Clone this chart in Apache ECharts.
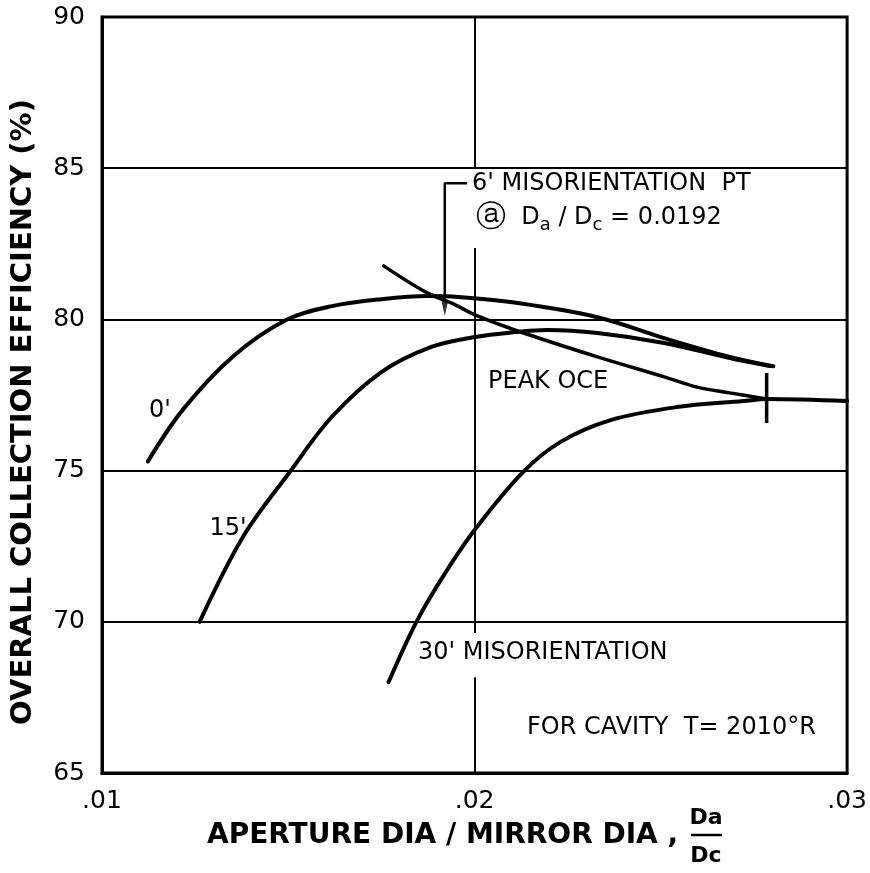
<!DOCTYPE html>
<html>
<head>
<meta charset="utf-8">
<title>Overall collection efficiency vs aperture ratio</title>
<script src="https://cdn.jsdelivr.net/npm/echarts@6/dist/echarts.min.js"></script>
<style>
  html, body { margin: 0; padding: 0; background: #ffffff; }
  #chart { width: 870px; height: 873px; }
</style>
</head>
<body>
<div id="chart"></div>
<script>
// Axis ticks
const xTicks = [0.01, 0.02, 0.03];
const yTicks = [65, 70, 75, 80, 85, 90];

// Overall collection efficiency (%) vs Da/Dc, per misorientation
const curve0 = [
  [0.01123, 75.30], [0.01216, 77.00], [0.01350, 78.76], [0.01494, 79.98],
  [0.01617, 80.44], [0.01750, 80.67], [0.01876, 80.77], [0.01956, 80.74],
  [0.02116, 80.54], [0.02330, 80.07], [0.02509, 79.38], [0.02685, 78.76],
  [0.02802, 78.45]
];
const curve15 = [
  [0.01262, 70.00], [0.01379, 72.82], [0.01502, 74.92], [0.01617, 76.78],
  [0.01750, 78.26], [0.01884, 79.09], [0.02001, 79.42], [0.02108, 79.58],
  [0.02196, 79.65], [0.02330, 79.55], [0.02509, 79.22], [0.02685, 78.72],
  [0.02792, 78.46]
];
const curve30 = [
  [0.01769, 68.00], [0.01844, 70.00], [0.01921, 71.61], [0.02004, 73.10],
  [0.02130, 74.95], [0.02231, 75.95], [0.02365, 76.67], [0.02543, 77.10],
  [0.02722, 77.30], [0.02784, 77.37], [0.03000, 77.30]
];
// Locus of peak OCE across misorientations
const peakOce = [
  [0.01756, 81.77], [0.01868, 80.91], [0.01948, 80.48], [0.02001, 80.15],
  [0.02108, 79.65], [0.02330, 78.76], [0.02509, 78.10], [0.02597, 77.76],
  [0.02685, 77.57], [0.02784, 77.37]
];
// 6' misorientation point and the tick on the peak locus
const misorient6X = 0.0192;
const peakTickX = 0.02784;
const peakTickSpan = [76.57, 78.23];

const FONT = '"DejaVu Sans", sans-serif';
const BLACK = '#000000';

const chart = echarts.init(document.getElementById('chart'), null, { renderer: 'canvas' });

function curveSeries(name, data, width) {
  return {
    name: name,
    type: 'line',
    data: data,
    smooth: 0.35,
    symbol: 'none',
    lineStyle: { color: BLACK, width: width, cap: 'round' },
    z: 5,
    silent: true
  };
}

function text(str, x, y, opts) {
  return Object.assign({
    type: 'text',
    x: x, y: y,
    silent: true,
    style: Object.assign({
      text: str,
      fontFamily: FONT,
      fontSize: 24,
      fontWeight: 'normal',
      fill: BLACK,
      align: 'left',
      verticalAlign: 'middle'
    }, opts && opts.style)
  }, opts && opts.el);
}

const option = {
  animation: false,
  backgroundColor: '#ffffff',
  grid: {
    left: 102, right: 19, top: 17, bottom: 100,
    show: true, borderColor: BLACK, borderWidth: 3
  },
  xAxis: {
    type: 'value',
    min: xTicks[0], max: xTicks[xTicks.length - 1], interval: 0.01,
    axisLine: { show: true, lineStyle: { color: BLACK, width: 3 } },
    axisTick: { show: false },
    splitLine: { show: false },
    axisLabel: {
      color: BLACK, fontFamily: FONT, fontSize: 25, margin: 16,
      formatter: v => v.toFixed(2).replace(/^0/, '')
    }
  },
  yAxis: {
    type: 'value',
    min: yTicks[0], max: yTicks[yTicks.length - 1], interval: 5,
    axisLine: { show: true, lineStyle: { color: BLACK, width: 3 } },
    axisTick: { show: false },
    splitLine: { show: true, lineStyle: { color: BLACK, width: 2 } },
    axisLabel: { color: BLACK, fontFamily: FONT, fontSize: 25, margin: 17 }
  },
  series: [
    // vertical rule at Da/Dc = .02, broken where the notes sit
    {
      type: 'line', data: [], silent: true,
      markLine: {
        silent: true, symbol: 'none', label: { show: false },
        lineStyle: { color: BLACK, width: 2, type: 'solid' },
        data: [
          [{ coord: [0.02, 90] }, { coord: [0.02, 85] }],
          [{ coord: [0.02, 82.36] }, { coord: [0.02, 69.63] }],
          [{ coord: [0.02, 68.17] }, { coord: [0.02, 65] }]
        ]
      }
    },
    curveSeries("0'", curve0, 4),
    curveSeries("15'", curve15, 4),
    curveSeries("30'", curve30, 4),
    curveSeries('PEAK OCE', peakOce, 3.5),
    // tick on the peak locus
    {
      type: 'line', symbol: 'none', silent: true, z: 6,
      data: [[peakTickX, peakTickSpan[0]], [peakTickX, peakTickSpan[1]]],
      lineStyle: { color: BLACK, width: 3.5 }
    },
    // bracket leading from the note to the 6' point
    {
      type: 'line', symbol: 'none', silent: true, z: 6,
      data: [[misorient6X + 0.0006, 84.5], [misorient6X, 84.5], [misorient6X, 80.6]],
      lineStyle: { color: BLACK, width: 2.5 }
    },
    {
      type: 'scatter', silent: true, z: 7,
      data: [[misorient6X, 80.38]],
      symbol: 'triangle', symbolRotate: 180, symbolSize: [7, 16],
      itemStyle: { color: BLACK }
    }
  ],
  graphic: [
    text('OVERALL COLLECTION EFFICIENCY (%)', 23, 412, {
      el: { rotation: Math.PI / 2 },
      style: { fontSize: 29, fontWeight: 'bold', align: 'center' }
    }),
    text('APERTURE DIA / MIRROR DIA ,', 207, 836, { style: { fontSize: 28, fontWeight: 'bold' } }),
    text('Da', 706, 818, { style: { fontSize: 22, fontWeight: 'bold', align: 'center' } }),
    { type: 'line', silent: true, shape: { x1: 691, y1: 835, x2: 722, y2: 835 },
      style: { stroke: BLACK, lineWidth: 2.5 } },
    text('Dc', 706, 856, { style: { fontSize: 22, fontWeight: 'bold', align: 'center' } }),

    text("0'", 160, 411, { style: { align: 'center' } }),
    text("15'", 228, 529, { style: { align: 'center' } }),
    text('PEAK OCE', 488, 382),
    text("30' MISORIENTATION", 418, 653),
    text('FOR CAVITY  T= 2010°R', 527, 728),
    text("6' MISORIENTATION  PT", 472, 184),
    text('{c|ⓐ}{n|  D}{s|a}{n| / D}{s|c}{n| = 0.0192}', 476, 218, {
      style: {
        rich: {
          c: { fontFamily: FONT, fontSize: 30, fill: BLACK },
          n: { fontFamily: FONT, fontSize: 24, fill: BLACK },
          s: { fontFamily: FONT, fontSize: 18, fill: BLACK, padding: [14, 0, 0, 0] }
        }
      }
    })
  ]
};

chart.setOption(option);
</script>
</body>
</html>
